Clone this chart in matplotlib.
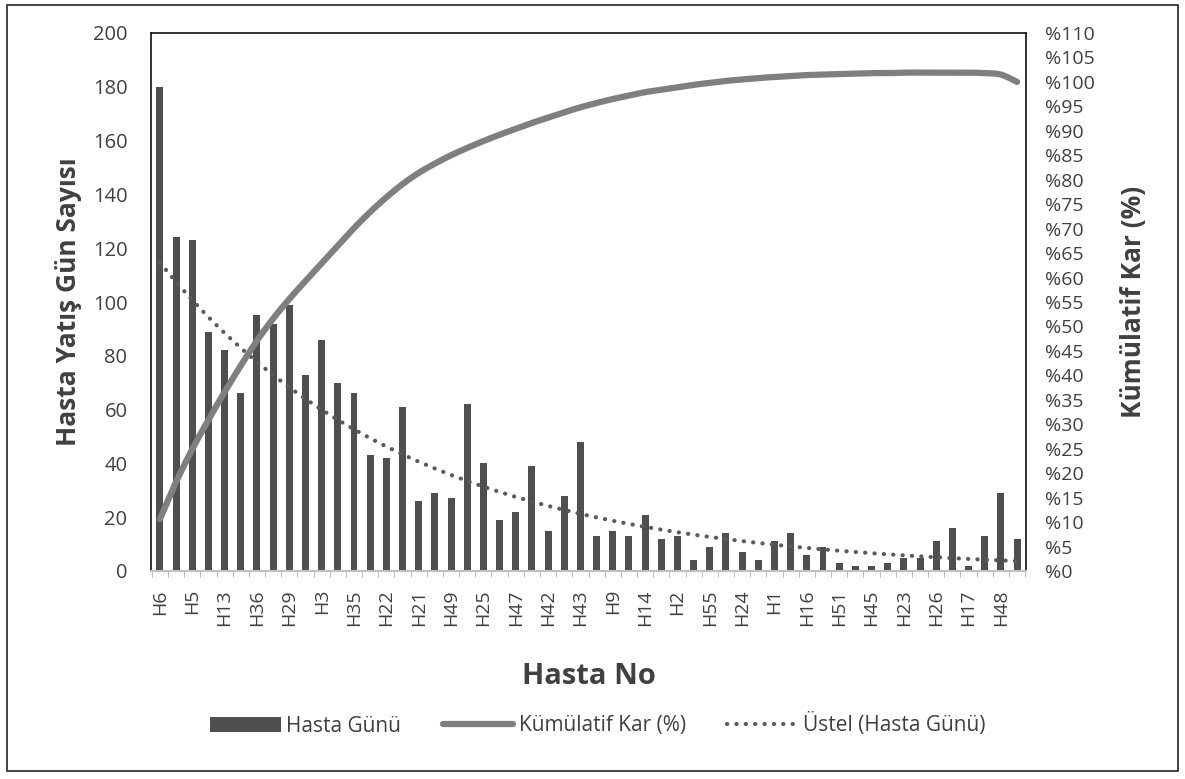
import numpy as np
import matplotlib
matplotlib.use("Agg")
import matplotlib.pyplot as plt
from matplotlib.patches import Rectangle, Patch
from matplotlib.lines import Line2D

plt.rcParams['font.family'] = ['Open Sans', 'DejaVu Sans']

# Visible tick labels (every other category is labelled)
shown_labels = ["H6", "H5", "H13", "H36", "H29", "H3", "H35", "H22", "H21", "H49",
                "H25", "H47", "H42", "H43", "H9", "H14", "H2", "H55", "H24", "H1",
                "H16", "H51", "H45", "H23", "H26", "H17", "H48"]

hasta_gunu = [180, 124, 123, 89, 82, 66, 95, 92, 99, 73,
              86, 70, 66, 43, 42, 61, 26, 29, 27, 62,
              40, 19, 22, 39, 15, 28, 48, 13, 15, 13,
              21, 12, 13, 4, 9, 14, 7, 4, 11, 14,
              6, 9, 3, 2, 2, 3, 5, 5, 11, 16,
              2, 13, 29, 12]

kumulatif_kar = [10.6, 18.2, 24.9, 30.9, 36.6, 42.0, 47.1, 51.6, 55.6, 59.3,
                 62.9, 66.5, 70.1, 73.4, 76.4, 79.1, 81.4, 83.3, 85.0, 86.5,
                 87.9, 89.2, 90.4, 91.6, 92.7, 93.8, 94.8, 95.7, 96.5, 97.2,
                 97.9, 98.4, 98.9, 99.4, 99.8, 100.2, 100.5, 100.8, 101.0, 101.2,
                 101.4, 101.5, 101.6, 101.7, 101.8, 101.8, 101.9, 101.9, 101.9, 101.9,
                 101.9, 101.8, 101.5, 100.0]

n = len(hasta_gunu)
x = np.arange(n)

# Exponential trendline (least squares on log values, like Excel)
xe = x + 1
b, lna = np.polyfit(xe, np.log(hasta_gunu), 1)
trend = np.exp(lna) * np.exp(b * xe)


def catmull_rom(px, py, steps=12):
    """Smooth rendering through the given points (Excel 'smoothed line')."""
    px = np.asarray(px, float)
    py = np.asarray(py, float)
    P = np.column_stack([px, py])
    P = np.vstack([P[0], P, P[-1]])
    out = []
    t = np.linspace(0, 1, steps, endpoint=False)
    for i in range(1, len(P) - 2):
        p0, p1, p2, p3 = P[i - 1], P[i], P[i + 1], P[i + 2]
        t2, t3 = t * t, t * t * t
        seg = 0.5 * ((2 * p1)[None, :] + (-p0 + p2)[None, :] * t[:, None]
                     + (2 * p0 - 5 * p1 + 4 * p2 - p3)[None, :] * t2[:, None]
                     + (-p0 + 3 * p1 - 3 * p2 + p3)[None, :] * t3[:, None])
        out.append(seg)
    out.append(P[-2][None, :])
    out = np.vstack(out)
    return out[:, 0], out[:, 1]


fig = plt.figure(figsize=(11.85, 7.79), dpi=100)
fig.patches.append(Rectangle((7/1185, 1-771/779), 1171/1185, 766/779,
                             transform=fig.transFigure, fill=False,
                             edgecolor='#222222', linewidth=1.2))

txt_c = '#404040'
ax = fig.add_axes([151/1185, 1-571/779, 875/1185, 538/779])
bar_c = '#4f4f4f'
ax.bar(x, hasta_gunu, width=0.43, color=bar_c, zorder=2)
dot_style = (0, (0.05, 2.2))
ax.plot(x, trend, linestyle=dot_style, dash_capstyle='round',
        color='#5a5a5a', linewidth=3.0, zorder=3)
ax.set_xlim(-0.55, n - 0.45)
ax.set_ylim(0, 200)
ax.set_yticks(np.arange(0, 201, 20))
ax.tick_params(axis='y', length=0, labelsize=14.5, colors=txt_c, pad=17)
ax.set_xticks(x[::2])
ax.set_xticklabels(shown_labels, rotation=90, fontsize=14, color=txt_c)
ax.set_xticks(np.arange(-0.5, n, 1), minor=True)
ax.tick_params(axis='x', which='major', length=0, pad=13)
ax.tick_params(axis='x', which='minor', length=4, color='#b0b0b0', direction='out')
for s in ['top', 'left', 'right']:
    ax.spines[s].set_color('#111111')
    ax.spines[s].set_linewidth(1.2)
ax.spines['bottom'].set_color('#c0c0c0')
ax.spines['bottom'].set_linewidth(1.5)
ax.set_ylabel('Hasta Yatış Gün Sayısı', fontsize=19, fontweight='bold',
              color=txt_c, labelpad=8)
ax.set_xlabel('Hasta No', fontsize=21, fontweight='bold', color=txt_c,
              labelpad=26)

ax2 = ax.twinx()
sx, sy = catmull_rom(x, kumulatif_kar)
ax2.plot(sx, sy, color='#7f7f7f', linewidth=4.5,
         solid_capstyle='round', solid_joinstyle='round', zorder=4)
ax2.set_ylim(0, 110)
ax2.set_yticks(np.arange(0, 111, 5))
ax2.set_yticklabels([f'%{v}' for v in range(0, 111, 5)])
ax2.tick_params(axis='y', length=0, labelsize=14, colors=txt_c, pad=14)
for s in ['top', 'left', 'right', 'bottom']:
    ax2.spines[s].set_visible(False)
ax2.set_ylabel('Kümülatif Kar (%)', fontsize=19, fontweight='bold',
               color=txt_c, labelpad=18)

handles = [Patch(facecolor=bar_c, edgecolor='none'),
           Line2D([0], [0], color='#7f7f7f', linewidth=4.5, solid_capstyle='round'),
           Line2D([0], [0], color='#5a5a5a', linewidth=3.0,
                  linestyle=dot_style, dash_capstyle='round')]
fig.legend(handles, ['Hasta Günü', 'Kümülatif Kar (%)', 'Üstel (Hasta Günü)'],
           loc='center', bbox_to_anchor=(598/1185, 1-725/779), ncol=3,
           frameon=False, fontsize=15, handlelength=3.4, handleheight=0.7,
           handletextpad=0.25, columnspacing=2.0, labelcolor=txt_c)

fig.savefig('out.png', dpi=100)
